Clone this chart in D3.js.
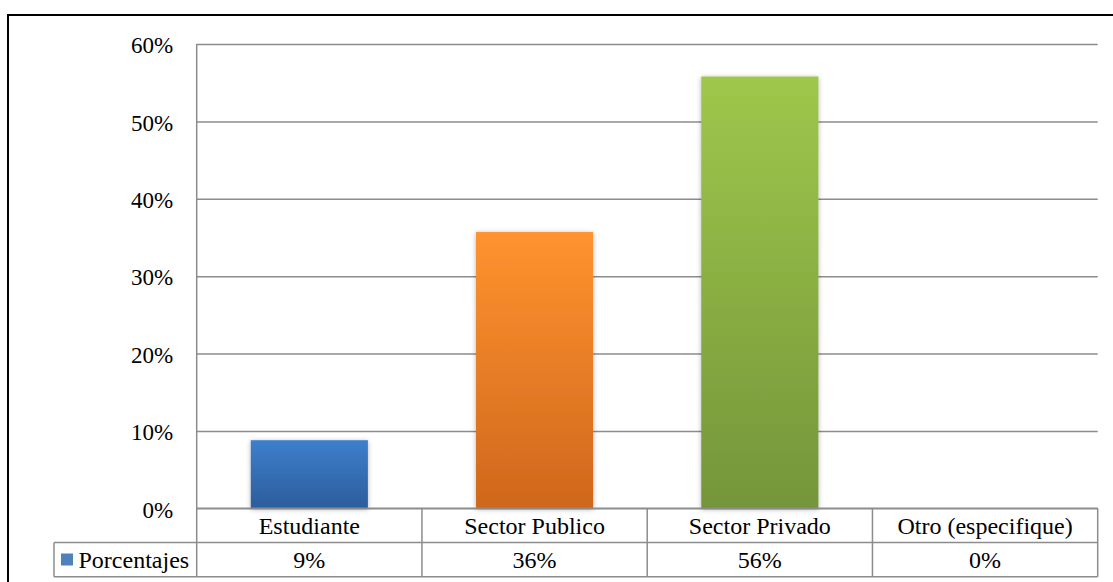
<!DOCTYPE html>
<html>
<head>
<meta charset="utf-8">
<script src="https://cdn.jsdelivr.net/npm/d3@7"></script>
<style>
  html, body { margin: 0; padding: 0; background: #fff; }
  svg { display: block; }
  svg text { font-family: 'Liberation Serif', 'DejaVu Serif', serif; }
</style>
</head>
<body>
<svg id="chart" width="1113" height="582"></svg>
<script>
// Occupation categories and their share of respondents
const categories = ["Estudiante", "Sector Publico", "Sector Privado", "Otro (especifique)"];
const seriesName = "Porcentajes";
const values = [0.088, 0.357, 0.558, 0];
const yTicks = [0, 0.1, 0.2, 0.3, 0.4, 0.5, 0.6];
const barColors = [
  ["#3d7fcc", "#2c5d9c"],
  ["#ff932f", "#cf671d"],
  ["#9ec74b", "#75953a"]
];
const legendColor = "#4f81bd";

const svg = d3.select("#chart");
const plot = { left: 196.7, right: 1097.7, top: 44, bottom: 508.3 };
const rowH = 34.2;
const legendLeft = 54;
const tickFont = 23;
const tableFont = 24;
const serif = "'Liberation Serif', 'DejaVu Serif', serif";

const fmt = d3.format(".0%");

const x = d3.scaleBand()
  .domain(categories)
  .range([plot.left, plot.right])
  .paddingInner(0.48)
  .paddingOuter(0.24);

const col = d3.scaleBand()
  .domain(categories)
  .range([plot.left, plot.right])
  .padding(0);

const y = d3.scaleLinear()
  .domain([0, 0.6])
  .range([plot.bottom, plot.top]);

// Outer frame
svg.append("rect")
  .attr("x", 8).attr("y", 15)
  .attr("width", 1300).attr("height", 700)
  .attr("fill", "none")
  .attr("stroke", "#000")
  .attr("stroke-width", 2);

// Gradients and bar shadow
const defs = svg.append("defs");
barColors.forEach((c, i) => {
  const g = defs.append("linearGradient")
    .attr("id", "grad" + i)
    .attr("x1", 0).attr("y1", 0).attr("x2", 0).attr("y2", 1);
  g.append("stop").attr("offset", "0%").attr("stop-color", c[0]);
  g.append("stop").attr("offset", "100%").attr("stop-color", c[1]);
});
const shadow = defs.append("filter").attr("id", "shadow")
  .attr("x", "-20%").attr("y", "-20%").attr("width", "140%").attr("height", "140%");
shadow.append("feDropShadow")
  .attr("dx", 0).attr("dy", 1).attr("stdDeviation", 2.5)
  .attr("flood-color", "#000").attr("flood-opacity", 0.3);

// Horizontal gridlines with the value axis
const yAxis = d3.axisLeft(y)
  .tickValues(yTicks)
  .tickFormat(fmt)
  .tickSize(-(plot.right - plot.left))
  .tickPadding(23.5);

const gy = svg.append("g")
  .attr("transform", `translate(${plot.left},0)`)
  .call(yAxis)
  .attr("font-family", serif)
  .attr("font-size", tickFont);
gy.select(".domain").remove();
gy.selectAll(".tick line")
  .attr("stroke", "#8c8c8c")
  .attr("stroke-width", 1.5);
gy.selectAll(".tick text")
  .attr("dy", "0.38em")
  .attr("fill", "#000");

// Vertical value axis line
svg.append("line")
  .attr("x1", plot.left).attr("x2", plot.left)
  .attr("y1", plot.top).attr("y2", plot.bottom + 2 * rowH)
  .attr("stroke", "#8c8c8c").attr("stroke-width", 1.5);

// Bars
svg.append("g").selectAll("rect")
  .data(categories.map((c, i) => ({ c, v: values[i], i })).filter(d => d.v > 0))
  .join("rect")
  .attr("x", d => x(d.c))
  .attr("width", x.bandwidth())
  .attr("y", d => y(d.v))
  .attr("height", d => y(0) - y(d.v))
  .attr("fill", d => `url(#grad${d.i})`)
  .attr("filter", "url(#shadow)");

// Data table beneath the plot
const table = svg.append("g")
  .attr("stroke", "#8c8c8c")
  .attr("stroke-width", 1.5);
const row1 = plot.bottom + rowH;
const row2 = plot.bottom + 2 * rowH;

table.append("line")
  .attr("x1", plot.left).attr("x2", plot.right)
  .attr("y1", plot.bottom).attr("y2", plot.bottom);
table.append("line")
  .attr("x1", legendLeft).attr("x2", plot.right)
  .attr("y1", row1).attr("y2", row1);
table.append("line")
  .attr("x1", legendLeft).attr("x2", plot.right)
  .attr("y1", row2).attr("y2", row2);
table.append("line")
  .attr("x1", legendLeft).attr("x2", legendLeft)
  .attr("y1", row1).attr("y2", row2);
table.selectAll(".colsep")
  .data(categories)
  .join("line")
  .attr("class", "colsep")
  .attr("x1", d => col(d) + col.bandwidth())
  .attr("x2", d => col(d) + col.bandwidth())
  .attr("y1", plot.bottom).attr("y2", row2);

const textG = svg.append("g")
  .attr("font-size", tableFont)
  .attr("font-family", serif)
  .attr("fill", "#000")
  .attr("text-anchor", "middle");

textG.selectAll(".cat")
  .data(categories)
  .join("text")
  .attr("class", "cat")
  .attr("x", d => col(d) + col.bandwidth() / 2)
  .attr("y", plot.bottom + rowH / 2)
  .attr("dy", "0.35em")
  .text(d => d);

textG.selectAll(".val")
  .data(categories.map((c, i) => ({ c, v: values[i] })))
  .join("text")
  .attr("class", "val")
  .attr("x", d => col(d.c) + col.bandwidth() / 2)
  .attr("y", row1 + rowH / 2)
  .attr("dy", "0.35em")
  .text(d => fmt(d.v));

// Legend key in the table's first column
svg.append("rect")
  .attr("x", 61).attr("y", row1 + 11)
  .attr("width", 12).attr("height", 12)
  .attr("fill", legendColor);
svg.append("text")
  .attr("x", 78.5)
  .attr("y", row1 + rowH / 2)
  .attr("dy", "0.35em")
  .attr("font-size", tableFont)
  .attr("font-family", serif)
  .attr("fill", "#000")
  .text(seriesName);
</script>
</body>
</html>
